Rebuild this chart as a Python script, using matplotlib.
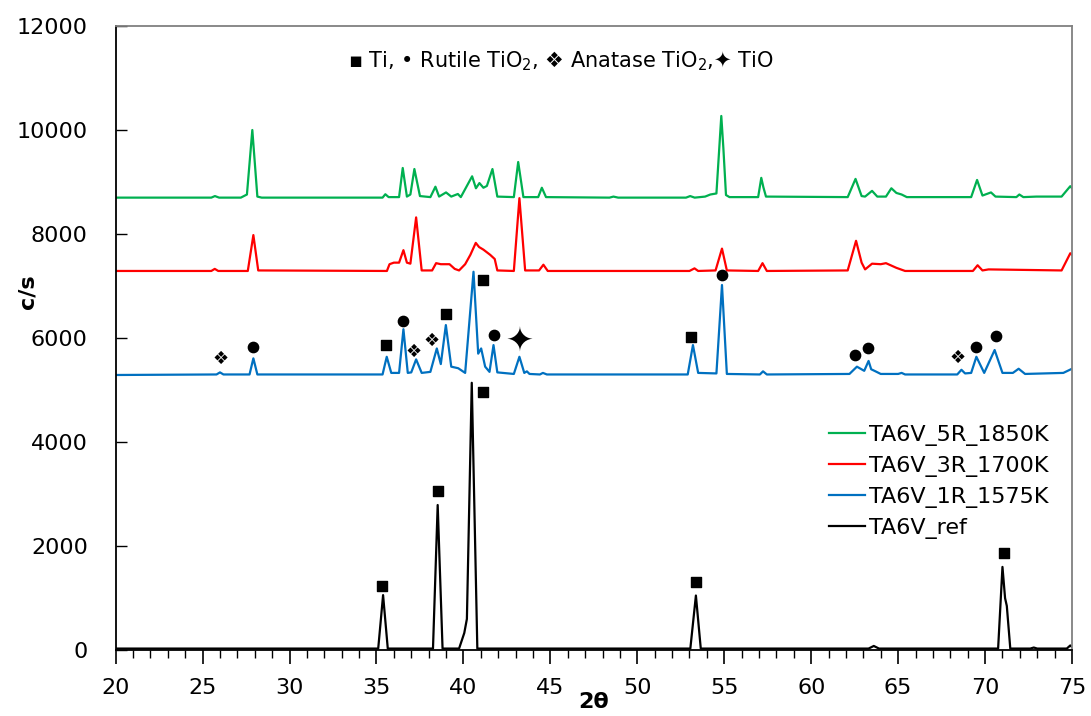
import matplotlib
matplotlib.use("Agg")
import matplotlib.pyplot as plt
from matplotlib.ticker import MultipleLocator

plt.rcParams["font.family"] = ["DejaVu Sans"]

# ---- data (2theta, c/s) ----
ref_x = [20, 35.1, 35.38, 35.65, 38.25, 38.52, 38.8, 39.75, 40.05, 40.2, 40.48, 40.8,
         53.05, 53.37, 53.65, 63.3, 63.6, 63.9, 70.75, 71.0, 71.15, 71.25, 71.45,
         72.6, 72.8, 73.0, 74.7, 74.9, 75]
ref_y = [30, 30, 1058, 30, 30, 2790, 30, 30, 330, 600, 5140, 30,
         30, 1050, 30, 30, 80, 30, 30, 1600, 1000, 850, 30,
         30, 50, 30, 30, 90, 60]

r1_x = [20, 25.8, 26.0, 26.2, 27.7, 27.92, 28.15, 35.35, 35.59, 35.85, 36.3, 36.55, 36.8,
        37.0, 37.28, 37.6, 38.1, 38.47, 38.7, 38.99, 39.3, 39.7, 40.1, 40.58, 40.85,
        41.02, 41.25, 41.5, 41.73, 41.95, 42.9, 43.22, 43.5, 43.65, 43.8, 44.4, 44.57,
        44.8, 52.9, 53.2, 53.5, 54.55, 54.87, 55.15, 57.05, 57.23, 57.45, 62.2, 62.63,
        63.05, 63.3, 63.45, 63.7, 64.0, 65.0, 65.2, 65.4, 68.4, 68.64, 68.85, 69.2,
        69.5, 69.95, 70.55, 71.0, 71.6, 71.93, 72.3, 74.5, 75]
r1_y = [5290, 5300, 5340, 5300, 5300, 5610, 5300, 5300, 5640, 5330, 5330, 6170, 5330,
        5340, 5590, 5330, 5350, 5800, 5500, 6250, 5450, 5420, 5330, 7275, 5700,
        5800, 5450, 5350, 5865, 5340, 5310, 5640, 5330, 5360, 5310, 5300, 5330,
        5300, 5300, 5865, 5330, 5320, 7020, 5310, 5300, 5360, 5300, 5310, 5450,
        5370, 5560, 5400, 5360, 5310, 5310, 5330, 5300, 5300, 5390, 5320, 5330,
        5640, 5330, 5770, 5330, 5330, 5410, 5310, 5330, 5410]

r3_x = [20, 25.5, 25.7, 25.9, 27.6, 27.92, 28.2, 35.6, 35.75, 36.0, 36.3, 36.55, 36.75,
        36.95, 37.28, 37.6, 38.2, 38.43, 38.7, 39.2, 39.5, 39.75, 40.1, 40.4, 40.71,
        40.9, 41.15, 41.54, 41.8, 41.95, 42.9, 43.22, 43.55, 44.35, 44.6, 44.85,
        53.0, 53.29, 53.5, 54.5, 54.87, 55.15, 56.95, 57.2, 57.45, 62.1, 62.58, 62.9,
        63.1, 63.5, 64.0, 64.3, 64.9, 65.4, 69.3, 69.57, 69.85, 70.2, 74.4, 74.9, 75]
r3_y = [7290, 7290, 7330, 7290, 7290, 7980, 7300, 7290, 7420, 7450, 7450, 7690, 7450,
        7430, 8320, 7300, 7300, 7440, 7420, 7420, 7330, 7300, 7420, 7600, 7830,
        7750, 7700, 7600, 7520, 7300, 7290, 8690, 7300, 7300, 7410, 7290,
        7290, 7340, 7290, 7300, 7720, 7300, 7290, 7440, 7290, 7300, 7870, 7450,
        7320, 7430, 7420, 7440, 7350, 7290, 7290, 7400, 7300, 7320, 7300, 7630, 7600]

r5_x = [20, 25.5, 25.71, 25.95, 27.2, 27.55, 27.86, 28.15, 28.4, 35.35, 35.51, 35.7,
        36.3, 36.51, 36.75, 36.95, 37.18, 37.5, 38.1, 38.39, 38.6, 39.0, 39.3, 39.68,
        39.85, 40.5, 40.72, 40.92, 41.15, 41.35, 41.67, 41.95, 42.9, 43.15, 43.45,
        44.3, 44.51, 44.75, 48.4, 48.63, 48.9, 52.8, 53.04, 53.3, 53.9, 54.2, 54.55,
        54.83, 54.95, 55.1, 55.3, 56.95, 57.13, 57.25, 57.4, 62.1, 62.55, 62.9, 63.1,
        63.5, 63.8, 64.3, 64.61, 64.9, 65.2, 65.5, 69.2, 69.54, 69.85, 70.34, 70.6,
        71.8, 71.97, 72.2, 72.95, 74.4, 74.9, 75]
r5_y = [8700, 8700, 8730, 8700, 8700, 8760, 10000, 8720, 8700, 8700, 8765, 8710,
        8710, 9270, 8720, 8760, 9250, 8730, 8710, 8910, 8720, 8800, 8720, 8770,
        8710, 9110, 8880, 8980, 8890, 8925, 9250, 8720, 8710, 9385, 8710,
        8710, 8890, 8710, 8700, 8720, 8700, 8700, 8730, 8700, 8720, 8760, 8780,
        10270, 9650, 8750, 8710, 8710, 9080, 8900, 8720, 8710, 9060, 8730, 8720,
        8830, 8720, 8720, 8880, 8790, 8760, 8710, 8710, 9040, 8740, 8800, 8720,
        8710, 8760, 8710, 8720, 8720, 8920, 8880]

# phase markers (2theta, c/s)
ti_x = [35.34, 38.56, 41.12, 53.35, 71.1, 35.55, 38.99, 41.15, 53.1]
ti_y = [1237, 3057, 4967, 1310, 1865, 5865, 6461, 7115, 6013]
rutile_x = [27.92, 36.55, 41.77, 54.87, 62.5, 63.27, 69.48, 70.63]
rutile_y = [5821, 6333, 6057, 7211, 5667, 5808, 5821, 6038]
anatase_x = [26.06, 37.16, 38.14, 68.4]
anatase_y = [5590, 5725, 5942, 5615]
tio_x = [43.26]
tio_y = [5929]

labels = ["TA6V_5R_1850K", "TA6V_3R_1700K", "TA6V_1R_1575K", "TA6V_ref"]
colors = ["#00B050", "#FF0000", "#0070C0", "#000000"]

fig = plt.figure(figsize=(10.91, 7.16), dpi=100)
ax = fig.add_axes([0.106, 0.092, 0.8766, 0.8717])

for xs, ys, lab, col in zip([r5_x, r3_x, r1_x, ref_x], [r5_y, r3_y, r1_y, ref_y], labels, colors):
    ax.plot(xs, ys, color=col, lw=1.6, label=lab)

ax.scatter(ti_x, ti_y, marker="s", s=45, color="black", zorder=5)
ax.scatter(rutile_x, rutile_y, marker="o", s=55, color="black", zorder=5)
for x, y in zip(anatase_x, anatase_y):
    ax.text(x, y, "\u2756", ha="center", va="center", fontsize=13, zorder=5)
for x, y in zip(tio_x, tio_y):
    ax.text(x, y, "\u2726", ha="center", va="center", fontsize=24, zorder=5)

ax.text(0.465, 0.943, "\u25AA Ti, \u2022 Rutile TiO$_2$, \u2756 Anatase TiO$_2$,\u2726 TiO",
        transform=ax.transAxes, ha="center", va="center", fontsize=15)

ax.set_xlim(20, 75)
ax.set_ylim(0, 12000)
ax.xaxis.set_major_locator(MultipleLocator(5))
ax.xaxis.set_minor_locator(MultipleLocator(1))
ax.yaxis.set_major_locator(MultipleLocator(2000))
ax.tick_params(axis="x", which="major", direction="out", length=10, width=1.2, labelsize=16, pad=10)
ax.tick_params(axis="x", which="minor", direction="out", length=6, width=1)
ax.tick_params(axis="y", direction="in", length=8, width=1, labelsize=16, pad=20)

for side in ["left", "bottom"]:
    ax.spines[side].set_color("black")
    ax.spines[side].set_linewidth(1.3)
for side in ["top", "right"]:
    ax.spines[side].set_color("#808080")
    ax.spines[side].set_linewidth(1.3)

ax.set_xlabel("2\u03b8", fontsize=16, fontweight="bold", labelpad=-4)
ax.set_ylabel("c/s", fontsize=16, fontweight="bold")
ax.yaxis.set_label_coords(-0.082, 0.574)

ax.legend(loc="center left", bbox_to_anchor=(0.737, 0.269), borderaxespad=0, frameon=False,
          fontsize=16, handlelength=1.6, handletextpad=0.2, labelspacing=0.45)

fig.savefig("out.png", dpi=100)
